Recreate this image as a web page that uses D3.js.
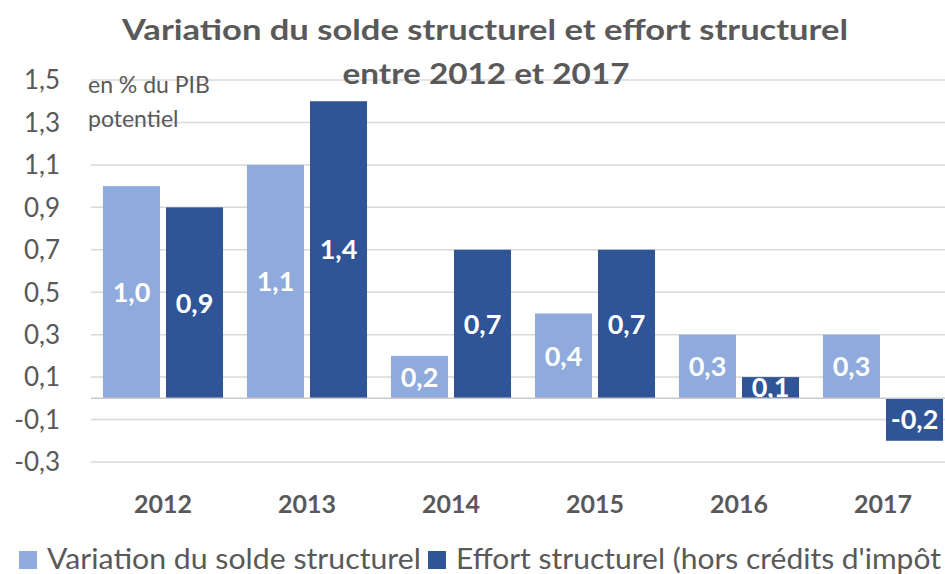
<!DOCTYPE html>
<html>
<head>
<meta charset="utf-8">
<script src="https://cdn.jsdelivr.net/npm/d3@7"></script>
<style>
  html, body { margin: 0; padding: 0; background: #fff; }
  svg { display: block; }
  text { font-family: Lato, "Open Sans", sans-serif; }
</style>
</head>
<body>
<svg id="chart" width="945" height="574"></svg>
<script>
const years = ["2012", "2013", "2014", "2015", "2016", "2017"];
const seriesNames = ["Variation du solde structurel", "Effort structurel (hors crédits d'impôt"];
const variationSolde = [1.0, 1.1, 0.2, 0.4, 0.3, 0.3];
const effortStructurel = [0.9, 1.4, 0.7, 0.7, 0.1, -0.2];
const yTicks = [-0.3, -0.1, 0.1, 0.3, 0.5, 0.7, 0.9, 1.1, 1.3, 1.5];
const colors = ["#8FAADC", "#2F5597"];
const titleLines = ["Variation  du solde structurel  et effort structurel", "entre 2012 et 2017"];
const unitLines = ["en % du PIB", "potentiel"];

const svg = d3.select("#chart");
const W = 945, H = 574;
const plot = { left: 91, right: 955, top: 80, bottom: 462 };

const locale = d3.formatLocale({ decimal: ",", thousands: " ", grouping: [3], currency: ["", "€"], minus: "-" });
const fmt = locale.format(".1f");

const x0 = d3.scaleBand().domain(years).range([plot.left, plot.right]).paddingInner(0).paddingOuter(0);
const x1 = d3.scaleBand().domain([0, 1]).range([0, x0.bandwidth()]).paddingInner(0.095).paddingOuter(0.19);
const y = d3.scaleLinear().domain([-0.3, 1.5]).range([plot.bottom, plot.top]);

// gridlines
svg.append("g").selectAll("line").data(yTicks).join("line")
  .attr("x1", plot.left).attr("x2", W)
  .attr("y1", d => y(d)).attr("y2", d => y(d))
  .attr("stroke", "#D9D9D9").attr("stroke-width", 1.5);

// y tick labels
svg.append("g").selectAll("text").data(yTicks).join("text")
  .attr("x", 60).attr("y", d => y(d)).attr("dy", "0.36em")
  .attr("text-anchor", "end").attr("fill", "#595959")
  .attr("font-size", 26)
  .text(d => fmt(d));

// bars
const rows = years.map((yr, i) => ({ year: yr, vals: [variationSolde[i], effortStructurel[i]] }));
const groups = svg.append("g").selectAll("g").data(rows).join("g")
  .attr("transform", d => `translate(${x0(d.year)},0)`);

groups.selectAll("rect").data(d => d.vals.map((v, k) => ({ v, k }))).join("rect")
  .attr("x", d => x1(d.k)).attr("width", x1.bandwidth())
  .attr("y", d => y(Math.max(0, d.v)))
  .attr("height", d => Math.abs(y(d.v) - y(0)))
  .attr("fill", d => colors[d.k]);

// zero line
svg.append("line")
  .attr("x1", plot.left).attr("x2", W)
  .attr("y1", y(0)).attr("y2", y(0))
  .attr("stroke", "#C9C9C9").attr("stroke-width", 1.5);

// data labels
groups.selectAll("text.lbl").data(d => d.vals.map((v, k) => ({ v, k }))).join("text")
  .attr("class", "lbl")
  .attr("x", d => x1(d.k) + x1.bandwidth() / 2)
  .attr("y", d => (y(d.v) + y(0)) / 2).attr("dy", "0.36em")
  .attr("text-anchor", "middle").attr("fill", "#fff")
  .attr("font-weight", "bold").attr("font-size", 27)
  .text(d => fmt(d.v));

// x labels
svg.append("g").selectAll("text").data(years).join("text")
  .attr("x", d => x0(d) + x0.bandwidth() / 2).attr("y", 513)
  .attr("text-anchor", "middle").attr("fill", "#595959")
  .attr("font-weight", "bold").attr("font-size", 25)
  .text(d => d);

// unit note
svg.append("g").selectAll("text").data(unitLines).join("text")
  .attr("x", 88).attr("y", (d, i) => 93 + i * 34)
  .attr("fill", "#595959").attr("font-size", 23)
  .text(d => d);

// title
const tWidths = [726, 287];
const tCenters = [485, 486];
svg.append("g").selectAll("text").data(titleLines).join("text")
  .attr("x", (d, i) => tCenters[i]).attr("y", (d, i) => 40 + i * 44)
  .attr("text-anchor", "middle").attr("fill", "#595959")
  .attr("font-weight", "bold").attr("font-size", 29)
  .attr("textLength", (d, i) => tWidths[i]).attr("lengthAdjust", "spacingAndGlyphs")
  .text(d => d);

// legend
const leg = svg.append("g");
const legX = [19, 428];
leg.selectAll("rect").data(seriesNames).join("rect")
  .attr("x", (d, i) => legX[i]).attr("y", 551).attr("width", 18).attr("height", 18)
  .attr("fill", (d, i) => colors[i]);
const legTexts = leg.selectAll("text").data(seriesNames).join("text")
  .attr("transform", (d, i) => `translate(${legX[i] + 28},569)`)
  .attr("fill", "#595959").attr("font-size", 28)
  .text(d => d);
const nodes = legTexts.nodes();
const k0 = 374 / nodes[0].getComputedTextLength();
const k1 = Math.min(k0, (941 - legX[1] - 28) / nodes[1].getComputedTextLength());
const ks = [k0, k1];
legTexts.attr("transform", (d, i) => `translate(${legX[i] + 28},569) scale(${ks[i]},1)`);
</script>
</body>
</html>
